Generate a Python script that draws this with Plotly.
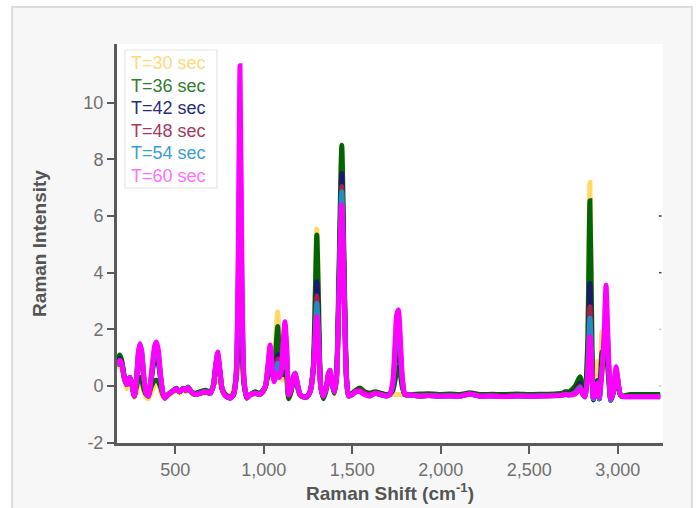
import plotly.graph_objects as go

# Raman shift grid (cm^-1)
wavenumber = [174, 186, 198, 212, 226, 236, 245, 257, 269, 282, 292, 301, 311, 323, 336, 348, 360, 373, 385, 395,
              405, 418, 430, 442, 460, 480, 508, 525, 544, 560, 572, 590, 612, 640, 670, 697, 715, 728, 740, 752,
              765, 785, 810, 830, 845, 855, 866, 877, 888, 904, 925, 951, 975, 995, 1010, 1025, 1036, 1047, 1058, 1068,
              1079, 1090, 1100, 1110, 1120, 1130, 1141, 1155, 1166, 1177, 1190, 1205, 1225, 1243, 1262, 1280, 1290, 1300, 1310, 1322,
              1337, 1355, 1366, 1375, 1385, 1400, 1412, 1425, 1441, 1455, 1468, 1480, 1500, 1520, 1544, 1570, 1600, 1630, 1660, 1690,
              1712, 1730, 1742, 1751, 1761, 1771, 1783, 1798, 1830, 1880, 1930, 1990, 2050, 2110, 2165, 2220, 2290, 2360, 2430, 2500,
              2570, 2640, 2690, 2705, 2725, 2760, 2787, 2803, 2815, 2830, 2843, 2855, 2863, 2875, 2885, 2896, 2904, 2911, 2922, 2934,
              2946, 2961, 2975, 2983, 2991, 3000, 3019, 3070, 3150, 3240]

t30 = [0.6, 0.8, 0.7, 0.2, -0.1, 0.15, 0.2, -0.1, -0.4, -0.2, 0.1, 0.2, 0.1, -0.2, -0.4, -0.45, -0.3, -0.1, 0.1, 0.2,
       0.1, -0.2, -0.4, -0.45, -0.35, -0.25, -0.15, -0.25, -0.15, -0.2, -0.1, -0.25, -0.3, -0.28, -0.25, -0.2, 0.0, 0.15, 0.3, 0.1,
       -0.2, -0.35, -0.35, -0.1, 0.3, 0.5, 0.6, 0.45, 0.0, -0.35, -0.3, -0.3, -0.3, -0.2, -0.05, 0.3, 0.5, 0.4, 0.5, 1.6,
       2.62, 1.2, 0.3, 0.2, 0.3, 0.1, -0.4, -0.2, 0.2, 0.3, 0.0, -0.35, -0.4, -0.4, -0.2, 0.7, 3.0, 5.53, 3.0, 0.0,
       -0.35, 0.0, 0.3, 0.3, 0.05, -0.25, 0.3, 3.8, 8.2, 3.8, 0.2, -0.35, -0.3, -0.2, -0.1, -0.25, -0.3, -0.25, -0.3, -0.3,
       -0.3, -0.3, -0.3, -0.3, -0.3, -0.3, -0.3, -0.3, -0.33, -0.35, -0.32, -0.35, -0.33, -0.35, -0.28, -0.34, -0.33, -0.35, -0.33, -0.35,
       -0.33, -0.32, -0.25, -0.18, -0.28, -0.15, 0.05, -0.2, -0.3, 1.5, 7.18, 1.5, -0.4, 0.3, 0.86, -0.3, 0.8, 1.92, 0.8, 1.0,
       0.4, -0.45, -0.25, 0.0, 0.15, 0.0, -0.35, -0.33, -0.33, -0.33]

t36 = [0.8, 1.1, 0.9, 0.35, 0.05, 0.25, 0.3, 0.0, -0.3, 0.0, 0.25, 0.3, 0.2, -0.1, -0.3, -0.35, -0.1, 0.1, 0.2, 0.2,
       0.15, -0.05, -0.3, -0.4, -0.3, -0.2, -0.08, -0.2, -0.08, -0.15, -0.03, -0.2, -0.25, -0.2, -0.15, -0.2, 0.0, 0.6, 1.0, 0.5,
       -0.1, -0.3, -0.4, -0.25, 0.3, 1.6, 3.9, 1.6, 0.1, -0.4, -0.3, -0.2, -0.25, -0.15, 0.0, 0.4, 0.6, 0.4, 0.3, 1.2,
       2.1, 0.9, 0.56, 0.4, 0.5, 0.3, -0.45, -0.2, 0.2, 0.35, 0.0, -0.3, -0.38, -0.38, -0.2, 0.7, 2.9, 5.33, 2.9, 0.0,
       -0.45, -0.1, 0.3, 0.4, 0.1, -0.25, 0.5, 4.0, 8.5, 4.0, 0.3, -0.35, -0.25, -0.15, -0.07, -0.2, -0.25, -0.2, -0.25, -0.3,
       -0.28, -0.15, 0.2, 0.5, 0.66, 0.45, -0.05, -0.3, -0.3, -0.28, -0.27, -0.3, -0.28, -0.3, -0.24, -0.3, -0.29, -0.3, -0.28, -0.3,
       -0.29, -0.28, -0.25, -0.2, -0.2, 0.0, 0.33, -0.05, -0.3, 1.4, 6.54, 1.4, -0.45, 0.0, 0.2, -0.45, 0.4, 1.2, 0.8, 1.3,
       0.5, -0.5, -0.25, 0.05, 0.25, 0.05, -0.35, -0.3, -0.3, -0.3]

t42 = [0.7, 0.95, 0.8, 0.3, 0.05, 0.25, 0.3, 0.0, -0.35, 0.3, 1.0, 1.3, 1.0, 0.2, -0.25, -0.35, 0.0, 0.6, 1.0, 1.05,
       0.8, 0.2, -0.25, -0.42, -0.3, -0.2, -0.1, -0.2, -0.1, -0.15, -0.05, -0.2, -0.3, -0.25, -0.2, -0.25, 0.0, 0.65, 1.1, 0.5,
       -0.1, -0.35, -0.42, -0.3, 0.4, 2.2, 5.5, 2.2, 0.2, -0.42, -0.3, -0.25, -0.3, -0.2, 0.0, 0.6, 1.0, 0.6, 0.3, 0.8,
       1.1, 0.6, 0.7, 1.0, 1.3, 0.8, -0.35, -0.15, 0.25, 0.4, 0.05, -0.3, -0.38, -0.38, -0.2, 0.6, 2.0, 3.68, 2.0, 0.0,
       -0.38, 0.0, 0.4, 0.5, 0.1, -0.2, 0.4, 3.5, 7.5, 3.5, 0.25, -0.35, -0.3, -0.2, -0.15, -0.25, -0.3, -0.25, -0.3, -0.35,
       -0.3, -0.05, 0.7, 1.2, 1.4, 1.0, 0.1, -0.3, -0.32, -0.35, -0.33, -0.35, -0.34, -0.35, -0.27, -0.35, -0.34, -0.36, -0.34, -0.35,
       -0.34, -0.33, -0.3, -0.27, -0.28, -0.15, 0.1, -0.2, -0.38, 0.6, 3.62, 0.6, -0.49, -0.1, 0.1, -0.45, 0.2, 0.8, 1.2, 2.2,
       0.9, -0.5, -0.2, 0.15, 0.4, 0.15, -0.35, -0.36, -0.36, -0.36]

t48 = [0.7, 0.9, 0.8, 0.3, 0.05, 0.25, 0.3, 0.0, -0.35, 0.3, 1.1, 1.4, 1.1, 0.25, -0.25, -0.35, 0.05, 0.7, 1.2, 1.3,
       1.0, 0.3, -0.25, -0.42, -0.3, -0.2, -0.1, -0.2, -0.1, -0.15, -0.05, -0.2, -0.3, -0.25, -0.2, -0.25, 0.0, 0.65, 1.1, 0.55,
       -0.1, -0.35, -0.42, -0.3, 0.45, 3.0, 7.2, 3.0, 0.25, -0.42, -0.3, -0.25, -0.3, -0.2, 0.0, 0.7, 1.2, 0.7, 0.2, 0.5,
       0.95, 0.5, 0.6, 1.2, 1.6, 1.0, -0.35, -0.15, 0.3, 0.4, 0.05, -0.3, -0.38, -0.38, -0.2, 0.6, 1.8, 3.19, 1.8, 0.0,
       -0.38, 0.0, 0.4, 0.5, 0.1, -0.2, 0.4, 3.3, 7.04, 3.3, 0.2, -0.35, -0.3, -0.2, -0.15, -0.25, -0.3, -0.25, -0.3, -0.35,
       -0.3, 0.0, 1.0, 1.7, 1.9, 1.3, 0.2, -0.3, -0.32, -0.35, -0.33, -0.35, -0.34, -0.35, -0.28, -0.35, -0.34, -0.36, -0.34, -0.36,
       -0.34, -0.33, -0.3, -0.28, -0.3, -0.2, 0.0, -0.25, -0.38, 0.5, 2.8, 0.5, -0.45, -0.1, 0.1, -0.45, 0.1, 0.6, 1.3, 2.6,
       1.1, -0.5, -0.2, 0.2, 0.5, 0.2, -0.35, -0.37, -0.37, -0.37]

t54 = [0.7, 0.9, 0.75, 0.3, 0.05, 0.25, 0.3, 0.0, -0.35, 0.3, 1.2, 1.45, 1.2, 0.3, -0.25, -0.35, 0.1, 0.8, 1.35, 1.45,
       1.1, 0.3, -0.25, -0.42, -0.3, -0.2, -0.1, -0.2, -0.1, -0.15, -0.05, -0.2, -0.3, -0.25, -0.2, -0.25, 0.0, 0.7, 1.15, 0.55,
       -0.1, -0.35, -0.42, -0.3, 0.5, 3.5, 9.2, 3.5, 0.3, -0.42, -0.3, -0.25, -0.3, -0.2, 0.0, 0.75, 1.35, 0.75, 0.2, 0.4,
       0.8, 0.4, 0.6, 1.4, 1.9, 1.2, -0.3, -0.1, 0.3, 0.45, 0.1, -0.3, -0.38, -0.38, -0.2, 0.55, 1.65, 2.92, 1.65, 0.0,
       -0.35, 0.0, 0.45, 0.55, 0.1, -0.2, 0.35, 3.2, 6.86, 3.2, 0.2, -0.35, -0.3, -0.2, -0.2, -0.3, -0.35, -0.25, -0.3, -0.35,
       -0.3, 0.1, 1.2, 2.1, 2.3, 1.5, 0.25, -0.3, -0.32, -0.35, -0.33, -0.36, -0.35, -0.36, -0.28, -0.36, -0.35, -0.37, -0.35, -0.36,
       -0.35, -0.34, -0.32, -0.3, -0.32, -0.25, -0.05, -0.3, -0.38, 0.4, 2.39, 0.4, -0.45, -0.1, 0.1, -0.45, 0.1, 0.5, 1.4, 3.0,
       1.3, -0.5, -0.2, 0.25, 0.6, 0.25, -0.35, -0.38, -0.38, -0.38]

t60 = [0.75, 0.9, 0.75, 0.3, 0.05, 0.25, 0.3, 0.0, -0.35, 0.3, 1.2, 1.5, 1.2, 0.3, -0.25, -0.35, 0.1, 0.9, 1.45, 1.55,
       1.25, 0.35, -0.25, -0.42, -0.3, -0.2, -0.1, -0.2, -0.1, -0.15, -0.05, -0.2, -0.3, -0.25, -0.2, -0.25, 0.0, 0.7, 1.2, 0.6,
       -0.1, -0.35, -0.42, -0.3, 0.5, 4.0, 11.3, 4.0, 0.3, -0.42, -0.3, -0.25, -0.3, -0.2, 0.0, 0.8, 1.45, 0.8, 0.15, 0.3,
       0.45, 0.3, 0.6, 1.6, 2.27, 1.4, -0.3, -0.1, 0.3, 0.45, 0.1, -0.3, -0.38, -0.38, -0.2, 0.5, 1.5, 2.45, 1.5, 0.0,
       -0.35, 0.0, 0.45, 0.56, 0.1, -0.2, 0.3, 3.0, 6.39, 3.0, 0.2, -0.35, -0.3, -0.2, -0.2, -0.3, -0.35, -0.25, -0.3, -0.35,
       -0.3, 0.2, 1.5, 2.5, 2.68, 1.8, 0.3, -0.3, -0.32, -0.35, -0.33, -0.36, -0.35, -0.36, -0.28, -0.36, -0.35, -0.37, -0.35, -0.36,
       -0.35, -0.34, -0.32, -0.3, -0.32, -0.28, -0.1, -0.3, -0.38, 0.3, 1.74, 0.3, -0.4, -0.1, 0.1, -0.4, 0.0, 0.5, 1.6, 3.56,
       1.5, -0.45, -0.2, 0.3, 0.68, 0.3, -0.35, -0.38, -0.38, -0.38]

series_names = ["T=30 sec", "T=36 sec", "T=42 sec", "T=48 sec", "T=54 sec", "T=60 sec"]
series_values = [t30, t36, t42, t48, t54, t60]
line_colors = ["#FFD966", "#006400", "#191970", "#A3214F", "#1F8CC4", "#FF00FF"]
text_colors = ["#FFD97A", "#2F7F2F", "#2B2B7E", "#A8385C", "#3A9FD0", "#FF70FF"]

x_ticks = [500, 1000, 1500, 2000, 2500, 3000]
y_ticks = [-2, 0, 2, 4, 6, 8, 10]
y_tick_labels = ["-2", "0", "2", "4", "6", "8", "10"]

# plot area geometry in pixels (for paper-coordinate decorations)
L, R, T, B = 117, 663, 44, 443
W, H = R - L, B - T


def px_x(p):
    return (p - L) / W


def px_y(p):
    return (B - p) / H


fig = go.Figure()
for name, vals, col in zip(series_names, series_values, line_colors):
    fig.add_trace(go.Scatter(x=wavenumber, y=vals, mode="lines", name=name,
                             line=dict(color=col, width=5, shape="spline", smoothing=0.6),
                             showlegend=False))

shapes = [
    # outer grey panel
    dict(type="rect", xref="paper", yref="paper", x0=px_x(12), x1=px_x(692), y0=px_y(7), y1=px_y(530),
         fillcolor="#F7F7F7", line=dict(color="#DCDCDC", width=2), layer="below"),
    # white plot area
    dict(type="rect", xref="paper", yref="paper", x0=0, x1=1, y0=0, y1=1,
         fillcolor="white", line=dict(width=0), layer="below"),
    # legend box
    dict(type="rect", xref="paper", yref="paper", x0=px_x(125), x1=px_x(217), y0=px_y(188), y1=px_y(50),
         fillcolor="white", line=dict(color="#E6E6E6", width=1.2), layer="above"),
]
# small right-edge tick marks
for yv, c in [(6, "#333333"), (4, "#444444"), (2, "#CCCCCC"), (0, "#CCCCCC")]:
    shapes.append(dict(type="line", xref="paper", yref="y", x0=px_x(659), x1=px_x(661.5), y0=yv, y1=yv,
                       line=dict(color=c, width=1.5), layer="above"))

annotations = []
legend_y = [63.3, 85.8, 108.3, 130.8, 153.3, 175.8]
for name, col, yp in zip(series_names, text_colors, legend_y):
    annotations.append(dict(text=name, xref="paper", yref="paper", x=px_x(129), y=px_y(yp),
                            xanchor="left", yanchor="middle", showarrow=False,
                            font=dict(family="Liberation Sans, Arial", size=18, color=col)))

fig.update_layout(
    width=696, height=508,
    margin=dict(l=L, r=696 - R, t=T, b=508 - B),
    paper_bgcolor="white", plot_bgcolor="white",
    font=dict(family="Liberation Sans, Arial", color="#6E6E6E"),
    shapes=shapes, annotations=annotations,
    showlegend=False,
)
fig.update_xaxes(
    range=[171, 3256], tickvals=x_ticks, tickformat=",d", automargin=False,
    showgrid=False, zeroline=False,
    showline=True, linecolor="#5A5A5A", linewidth=3,
    ticks="outside", ticklen=8, tickwidth=2, tickcolor="#5A5A5A",
    tickfont=dict(size=18, color="#707070"),
    title=dict(text="<b>Raman Shift (cm<sup>-1</sup>)</b>", font=dict(size=19, color="#555555"), standoff=9),
)
fig.update_yaxes(
    range=[-2.01, 12.07], tickvals=y_ticks, ticktext=y_tick_labels, automargin=False,
    showgrid=False, zeroline=False,
    showline=True, linecolor="#5A5A5A", linewidth=3,
    ticks="outside", ticklen=7, tickwidth=2, tickcolor="#5A5A5A",
    tickfont=dict(size=18, color="#707070"),
    title=dict(text="<b>Raman Intensity</b>", font=dict(size=19, color="#555555"), standoff=32),
)

fig.write_html("out.html")
